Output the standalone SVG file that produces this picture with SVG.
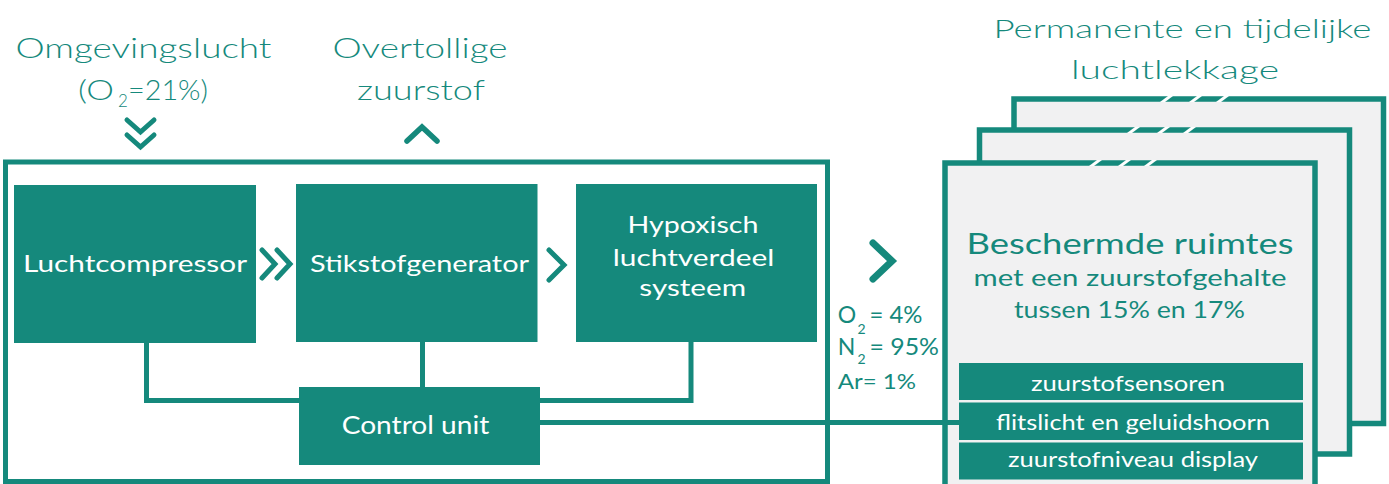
<svg xmlns="http://www.w3.org/2000/svg" width="1389" height="484" viewBox="0 0 1389 484">
<style>
.t{font-family:Lato,"Open Sans","Liberation Sans",sans-serif;fill:#15897c;font-weight:300}
.t4{font-family:Lato,"Open Sans","Liberation Sans",sans-serif;fill:#15897c;font-weight:400}
.w{font-family:Lato,"Open Sans","Liberation Sans",sans-serif;fill:#ffffff;font-weight:400}
.box{fill:#15897c}
.room{fill:#f1f1f2;stroke:#15897c;stroke-width:5.5}
.sens{fill:#15897c}
.line{fill:none;stroke:#15897c;stroke-width:5}
.chev{fill:none;stroke:#15897c;stroke-width:5;stroke-linecap:round;stroke-linejoin:miter}
.slash{fill:#ffffff}
</style>
<rect width="1389" height="484" fill="#ffffff"/>

<g id="labels-top">
<text class="t" x="143.5" y="58" font-size="28" text-anchor="middle" textLength="256" lengthAdjust="spacingAndGlyphs">Omgevingslucht</text>
<text class="t" x="78" y="100" font-size="28" textLength="36" lengthAdjust="spacingAndGlyphs">(O</text>
<text class="t" x="118" y="107" font-size="17">2</text>
<text class="t" x="128" y="100" font-size="28" textLength="80" lengthAdjust="spacingAndGlyphs">=21%)</text>
<text class="t" x="420" y="58" font-size="28" text-anchor="middle" textLength="175" lengthAdjust="spacingAndGlyphs">Overtollige</text>
<text class="t" x="421" y="100" font-size="28" text-anchor="middle" textLength="128" lengthAdjust="spacingAndGlyphs">zuurstof</text>
<text class="t" x="1182.5" y="38" font-size="26" text-anchor="middle" textLength="378" lengthAdjust="spacingAndGlyphs">Permanente en tijdelijke</text>
<text class="t" x="1175" y="79" font-size="26" text-anchor="middle" textLength="208" lengthAdjust="spacingAndGlyphs">luchtlekkage</text>
</g>

<g id="arrows">
<polyline class="chev" points="127,120 140.5,132 154,120"/>
<polyline class="chev" points="127,135 140.5,147 154,135"/>
<polyline class="chev" style="stroke-width:5.5" points="407,141 422,127 437,141"/>
<polyline class="chev" points="262,250 275,264 262,278"/>
<polyline class="chev" points="277,250 290,264 277,278"/>
<polyline class="chev" points="549,250 564,265 549,280"/>
<polyline class="chev" style="stroke-width:7" points="873,243 892,261 873,279"/>
</g>

<g id="system">
<rect x="5.5" y="162" width="822" height="319.5" fill="none" stroke="#15897c" stroke-width="5"/>
</g>

<g id="rooms">
<rect class="room" x="1014" y="99" width="369.5" height="324.5"/>
<polygon class="slash" points="1160,102 1165,102 1173,96 1168,96"/>
<polygon class="slash" points="1189,102 1194,102 1202,96 1197,96"/>
<polygon class="slash" points="1216,102 1221,102 1229,96 1224,96"/>
<rect class="room" x="979.5" y="130" width="370" height="324"/>
<polygon class="slash" points="1127,133 1132,133 1140,127 1135,127"/>
<polygon class="slash" points="1157,133 1162,133 1170,127 1165,127"/>
<polygon class="slash" points="1183,133 1188,133 1196,127 1191,127"/>
<rect class="room" x="945" y="163" width="370" height="340"/>
<polygon class="slash" points="1089,166 1094,166 1102,160 1097,160"/>
<polygon class="slash" points="1118,166 1123,166 1131,160 1126,160"/>
<polygon class="slash" points="1144,166 1149,166 1157,160 1152,160"/>
<text class="t4" x="1130" y="254" font-size="29" text-anchor="middle" textLength="327" lengthAdjust="spacingAndGlyphs">Beschermde ruimtes</text>
<text class="t4" x="1130" y="286" font-size="24" text-anchor="middle" textLength="313" lengthAdjust="spacingAndGlyphs">met een zuurstofgehalte</text>
<text class="t4" x="1129.5" y="318" font-size="24" text-anchor="middle" textLength="231" lengthAdjust="spacingAndGlyphs">tussen 15% en 17%</text>
</g>

<g id="node-luchtcompressor">
<rect class="box" x="14" y="185" width="242" height="158"/>
<text class="w" x="135" y="272" font-size="23" text-anchor="middle" textLength="224" lengthAdjust="spacingAndGlyphs">Luchtcompressor</text>
</g>
<g id="node-stikstofgenerator">
<rect class="box" x="296" y="184" width="241.5" height="158"/>
<text class="w" x="419.5" y="272" font-size="23" text-anchor="middle" textLength="219" lengthAdjust="spacingAndGlyphs">Stikstofgenerator</text>
</g>
<g id="node-hypoxisch">
<rect class="box" x="576" y="184" width="241" height="158"/>
<text class="w" x="693" y="233" font-size="23" text-anchor="middle" textLength="131" lengthAdjust="spacingAndGlyphs">Hypoxisch</text>
<text class="w" x="693.5" y="266" font-size="23" text-anchor="middle" textLength="161.6" lengthAdjust="spacingAndGlyphs">luchtverdeel</text>
<text class="w" x="692.7" y="296" font-size="23" text-anchor="middle" textLength="106.7" lengthAdjust="spacingAndGlyphs">systeem</text>
</g>
<g id="node-control">
<rect class="box" x="299" y="387" width="241" height="78"/>
<text class="w" x="415.5" y="434" font-size="25" text-anchor="middle" textLength="147.6" lengthAdjust="spacingAndGlyphs">Control unit</text>
</g>

<g id="gas-mix">
<text class="t4" x="837.7" y="323" font-size="23">O</text>
<text class="t4" x="857.5" y="333.5" font-size="14">2</text>
<text class="t4" x="869.5" y="323" font-size="23" textLength="53" lengthAdjust="spacingAndGlyphs">= 4%</text>
<text class="t4" x="837.7" y="355" font-size="23">N</text>
<text class="t4" x="857.5" y="363.5" font-size="14">2</text>
<text class="t4" x="869.5" y="355" font-size="23" textLength="69.5" lengthAdjust="spacingAndGlyphs">= 95%</text>
<text class="t4" x="837.7" y="389" font-size="22" textLength="78.3" lengthAdjust="spacingAndGlyphs">Ar= 1%</text>
</g>

<g id="connectors">
<polyline class="line" points="146.5,343 146.5,400.5 299,400.5"/>
<line class="line" x1="422.5" y1="342" x2="422.5" y2="387"/>
<polyline class="line" points="540,400.5 691,400.5 691,342"/>
<line class="line" x1="540" y1="422.5" x2="962" y2="422.5"/>
</g>

<g id="node-sensors">
<rect class="sens" x="959" y="363" width="344" height="37"/>
<rect class="sens" x="959" y="402.5" width="344" height="37.5"/>
<rect class="sens" x="959" y="442.5" width="344" height="37"/>
<text class="w" x="1128" y="390.5" font-size="21" text-anchor="middle" textLength="194" lengthAdjust="spacingAndGlyphs">zuurstofsensoren</text>
<text class="w" x="1133" y="430" font-size="21" text-anchor="middle" textLength="274" lengthAdjust="spacingAndGlyphs">flitslicht en geluidshoorn</text>
<text class="w" x="1133" y="466.5" font-size="21" text-anchor="middle" textLength="250" lengthAdjust="spacingAndGlyphs">zuurstofniveau display</text>
</g>
</svg>
